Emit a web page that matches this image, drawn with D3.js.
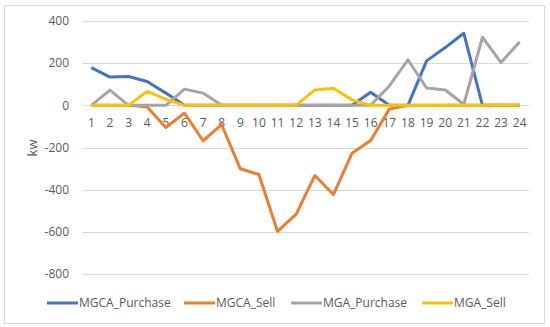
<!DOCTYPE html>
<html>
<head>
<meta charset="utf-8">
<script src="https://cdn.jsdelivr.net/npm/d3@7"></script>
<style>
  body { margin: 0; background: #fff; }
  svg { display: block; font-family: "Open Sans", "Liberation Sans", sans-serif; }
</style>
</head>
<body>
<div id="chart"></div>
<script>
// data
const hours = d3.range(1, 25).map(String);
const yTicks = [-800, -600, -400, -200, 0, 200, 400];
const seriesNames = ["MGCA_Purchase", "MGCA_Sell", "MGA_Purchase", "MGA_Sell"];
const mgcaPurchase = [179, 134, 137, 113, 58, 0, 0, 0, 0, 0, 0, 0, 0, 0, 0, 62, 0, 0, 211, 274, 342, 0, 0, 0];
const mgcaSell     = [0, 0, 0, -8, -105, -37, -168, -92, -301, -328, -598, -516, -333, -423, -227, -167, -18, 0, 0, 0, 0, 0, 0, 0];
const mgaPurchase  = [0, 72, 0, 0, 0, 77, 58, 0, 0, 0, 0, 0, 0, 0, 0, 0, 92, 216, 82, 73, 5, 323, 203, 302];
const mgaSell      = [0, 0, 0, 66, 29, 0, 0, 0, 0, 0, 0, 0, 73, 81, 26, 0, 0, 0, 0, 0, 0, 0, 0, 0];
const colors = ["#4472C4", "#ED7D31", "#A5A5A5", "#FFC000"];

const series = [mgcaPurchase, mgcaSell, mgaPurchase, mgaSell];

const W = 550, H = 327;
const margin = { top: 21, right: 21, bottom: 53, left: 82 };

const svg = d3.select("#chart").append("svg")
  .attr("width", W).attr("height", H);

// chart border
svg.append("rect")
  .attr("x", 4.5).attr("y", 5.5)
  .attr("width", 540).attr("height", 318)
  .attr("fill", "#fff").attr("stroke", "#D9D9D9");

const x = d3.scaleBand().domain(hours).range([margin.left, W - margin.right]);
const y = d3.scaleLinear().domain([-800, 400]).range([274, 21]);

// grid
svg.append("g")
  .selectAll("line")
  .data(yTicks)
  .join("line")
  .attr("x1", margin.left).attr("x2", W - margin.right)
  .attr("y1", d => Math.round(y(d)) + 0.5).attr("y2", d => Math.round(y(d)) + 0.5)
  .attr("stroke", "#D9D9D9").attr("stroke-width", 1);

// y axis labels
svg.append("g")
  .selectAll("text")
  .data(yTicks)
  .join("text")
  .attr("x", 69).attr("y", d => y(d))
  .attr("dy", "0.35em")
  .attr("text-anchor", "end")
  .attr("fill", "#595959").attr("font-size", "12px")
  .text(d => d);

// x axis labels
svg.append("g")
  .selectAll("text")
  .data(hours)
  .join("text")
  .attr("x", d => x(d) + x.bandwidth() / 2).attr("y", 123)
  .attr("dy", "0.35em")
  .attr("text-anchor", "middle")
  .attr("fill", "#595959").attr("font-size", "12px")
  .text(d => d);

// y title
svg.append("text")
  .attr("transform", "translate(37,148) rotate(-90)")
  .attr("text-anchor", "middle")
  .attr("fill", "#595959").attr("font-size", "13px")
  .text("kw");

// lines
const line = d3.line()
  .x((d, i) => x(hours[i]) + x.bandwidth() / 2)
  .y(d => y(d));

svg.append("g")
  .selectAll("path")
  .data(series)
  .join("path")
  .attr("d", d => line(d))
  .attr("fill", "none")
  .attr("stroke", (d, i) => colors[i])
  .attr("stroke-width", 3)
  .attr("stroke-linejoin", "round");

// legend
const legendX = [47, 184, 291, 422];
const leg = svg.append("g")
  .selectAll("g")
  .data(seriesNames)
  .join("g")
  .attr("transform", (d, i) => `translate(${legendX[i]},303)`);

leg.append("line")
  .attr("x1", 0).attr("x2", 31)
  .attr("stroke", (d, i) => colors[i])
  .attr("stroke-width", 3);

leg.append("text")
  .attr("x", 32).attr("dy", "0.35em")
  .attr("fill", "#595959").attr("font-size", "12px")
  .text(d => d);
</script>
</body>
</html>
